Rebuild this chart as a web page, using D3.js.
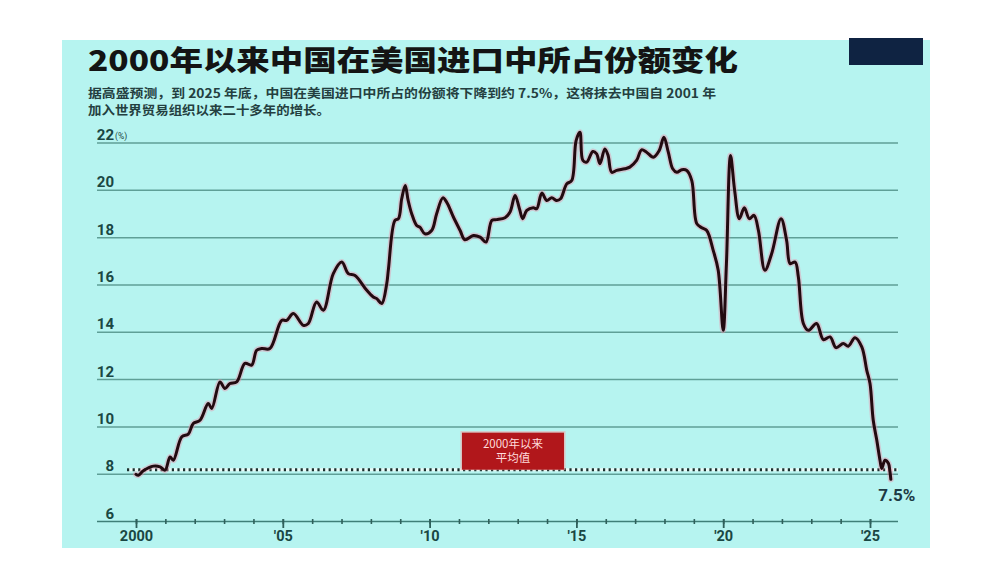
<!DOCTYPE html>
<html><head><meta charset="utf-8">
<script src="https://cdn.jsdelivr.net/npm/d3@7"></script>
<style>
html,body{margin:0;padding:0;background:#fff;}
svg{display:block;}
</style>
</head><body>
<svg id="chart" width="1000" height="585"></svg>
<script>
// ---- data ----
const titleText = "2000年以来中国在美国进口中所占份额变化";
const subtitleLines = [
  "据高盛预测，到 2025 年底，中国在美国进口中所占的份额将下降到约 7.5%，这将抹去中国自 2001 年",
  "加入世界贸易组织以来二十多年的增长。"
];
const yTicks = [6, 8, 10, 12, 14, 16, 18, 20, 22];
const xMajorTicks = [2000, 2005, 2010, 2015, 2020, 2025];
const xMajorLabels = ["2000", "'05", "'10", "'15", "'20", "'25"];
const xMinorTicks = d3.range(2000, 2026);
const averageValue = 8.17;
const averageLabel = ["2000年以来", "平均值"];
const endLabel = "7.5%";

const years = [
  2000.00,2000.08,2000.25,2000.59,2000.82,2000.99,2001.16,2001.27,2001.56,2001.78,
  2001.95,2002.18,2002.46,2002.58,2002.86,2003.03,2003.20,2003.43,2003.71,2003.94,
  2004.11,2004.28,2004.56,2004.96,2005.13,2005.36,2005.70,2005.87,2006.15,2006.38,
  2006.72,2007.01,2007.23,2007.46,2007.86,2008.08,2008.20,2008.37,2008.54,2008.60,
  2008.82,2008.94,2009.05,2009.17,2009.27,2009.39,2009.56,2009.67,2009.84,2010.07,
  2010.24,2010.45,2010.58,2010.81,2011.04,2011.20,2011.49,2011.72,2011.92,2012.12,
  2012.28,2012.57,2012.74,2012.91,2013.06,2013.17,2013.31,2013.53,2013.65,2013.82,
  2013.99,2014.16,2014.33,2014.46,2014.67,2014.84,2014.99,2015.12,2015.22,2015.35,
  2015.56,2015.69,2015.80,2015.97,2016.08,2016.20,2016.37,2016.65,2016.82,2017.05,
  2017.22,2017.39,2017.62,2017.82,2017.98,2018.13,2018.28,2018.42,2018.59,2018.76,
  2018.93,2019.10,2019.27,2019.44,2019.66,2019.83,2020.00,2020.11,2020.25,2020.39,
  2020.55,2020.72,2020.89,2021.05,2021.20,2021.42,2021.65,2021.97,2022.16,2022.28,
  2022.45,2022.56,2022.73,2022.90,2023.18,2023.41,2023.64,2023.84,2024.09,2024.26,
  2024.49,2024.72,2024.89,2025.00,2025.11,2025.23,2025.34,2025.40,2025.51,2025.63,
  2025.68,2025.71
];
const shares = [
  7.97,7.93,8.12,8.32,8.29,8.15,8.71,8.57,9.56,9.67,
  10.12,10.26,10.97,10.76,11.88,11.60,11.81,11.88,12.66,12.59,
  13.22,13.29,13.29,14.48,14.48,14.77,14.27,14.35,15.26,14.91,
  16.46,16.95,16.46,16.38,15.75,15.47,15.40,15.19,16.03,16.67,
  18.71,18.78,19.62,20.18,19.55,18.99,18.49,18.42,18.14,18.28,
  18.99,19.66,19.48,18.85,18.28,17.89,18.07,18.00,17.79,18.71,
  18.74,18.82,19.06,19.76,19.20,18.78,19.13,19.24,19.20,19.86,
  19.55,19.66,19.55,19.62,20.25,20.39,22.08,22.43,21.24,21.17,
  21.62,21.52,21.10,21.73,21.45,20.74,20.82,20.89,20.96,21.24,
  21.69,21.59,21.38,21.66,22.22,21.59,20.89,20.74,20.85,20.82,
  20.39,18.57,18.40,18.28,17.44,16.60,14.06,16.88,21.45,19.97,
  18.78,19.24,18.78,18.92,18.28,16.60,17.30,18.78,17.86,16.88,
  16.95,16.31,14.35,14.06,14.35,13.67,13.78,13.33,13.50,13.39,
  13.75,13.36,12.37,11.81,10.26,9.42,8.57,8.22,8.57,8.43,
  8.08,7.76
];
const series = years.map((t, i) => ({t, v: shares[i]}));

// ---- drawing ----
const svg = d3.select("#chart");
const CJK = "'Noto Sans CJK SC','Noto Sans',sans-serif";
const NUM = "Roboto,'Noto Sans',sans-serif";

// outer white + panel
svg.append("rect").attr("x",0).attr("y",0).attr("width",1000).attr("height",585).attr("fill","#ffffff");
svg.append("rect").attr("x",62).attr("y",40).attr("width",868).attr("height",508).attr("fill","#b6f4f0");

// logo block (top right)
svg.append("rect").attr("x",849).attr("y",38).attr("width",74).attr("height",27).attr("fill","#0f2342");

// scales
const x = d3.scaleLinear().domain([2000, 2025]).range([136, 870]);
const y = d3.scaleLinear().domain([6, 22]).range([521, 142.5]);
const gridLeft = 97, gridRight = 898;

// title & subtitle
svg.append("text").attr("x",88).attr("y",71)
  .attr("font-family",CJK).attr("font-weight",900).attr("font-size",28)
  .attr("fill","#141414")
  .attr("textLength",650).attr("lengthAdjust","spacingAndGlyphs")
  .text(titleText);
const subLens = [628, 242];
subtitleLines.forEach((s, i) => {
  svg.append("text").attr("x",88).attr("y",98 + i*17)
    .attr("font-family",CJK).attr("font-weight",700).attr("font-size",12.5)
    .attr("fill","#243f40")
    .attr("textLength",subLens[i]).attr("lengthAdjust","spacingAndGlyphs")
    .text(s);
});

// y grid + labels
const yAxis = d3.axisRight(y).tickValues(yTicks).tickSize(gridRight - gridLeft).tickFormat(d3.format("d"));
const gy = svg.append("g").attr("transform",`translate(${gridLeft},0)`).call(yAxis);
gy.select(".domain").remove();
gy.selectAll(".tick line").attr("stroke", d => d === 6 ? "#3f7f78" : "#5f9f97").attr("stroke-width",1.5);
gy.selectAll(".tick text")
  .attr("x", 17).attr("dy", -3).attr("text-anchor","end")
  .attr("font-family",NUM).attr("font-size",15).attr("font-weight",700)
  .attr("fill","#1a4743");
// (%) unit after 22
svg.append("text").attr("x", gridLeft + 18).attr("y", y(22) - 4)
  .attr("font-family",NUM).attr("font-size",8.5).attr("fill","#1a4743").text("(%)");

// x axis: minor ticks
const gxMinor = svg.append("g").attr("transform",`translate(0,${y(6)})`)
  .call(d3.axisBottom(x).tickValues(xMinorTicks).tickSize(3).tickFormat(""));
gxMinor.select(".domain").remove();
gxMinor.selectAll(".tick line").attr("y1",-2).attr("stroke","#2f5f5a").attr("stroke-width",1.6);
// x axis: major ticks and labels
const gxMajor = svg.append("g").attr("transform",`translate(0,${y(6)})`)
  .call(d3.axisBottom(x).tickValues(xMajorTicks).tickSize(7).tickPadding(3)
    .tickFormat((d, i) => xMajorLabels[i]));
gxMajor.select(".domain").remove();
gxMajor.selectAll(".tick line").attr("y1",-2).attr("stroke","#2f5f5a").attr("stroke-width",1.8);
gxMajor.selectAll(".tick text")
  .attr("font-family",NUM).attr("font-size",14.5).attr("font-weight",700).attr("fill","#1a4743");

// average dotted line
const avgY = y(averageValue);
svg.append("line").attr("x1",127).attr("x2",gridRight).attr("y1",avgY).attr("y2",avgY)
  .attr("stroke","#e9fbf8").attr("stroke-width",3);
svg.append("line").attr("x1",127).attr("x2",gridRight).attr("y1",avgY).attr("y2",avgY)
  .attr("stroke","#17302e").attr("stroke-width",3).attr("stroke-dasharray","2.2,3.4");

// average label box
const boxCx = x(2012.84), boxW = 102, boxH = 37;
svg.append("rect").attr("x",boxCx - boxW/2 - 1.5).attr("y",avgY - boxH - 1.5).attr("width",boxW+3).attr("height",boxH+2)
  .attr("fill","#f0a7a7").attr("opacity",0.6);
svg.append("rect").attr("x",boxCx - boxW/2).attr("y",avgY - boxH).attr("width",boxW).attr("height",boxH)
  .attr("fill","#b1171b");
averageLabel.forEach((s, i) => {
  svg.append("text").attr("x",boxCx).attr("y",avgY - boxH + 15 + i*14)
    .attr("text-anchor","middle").attr("font-family",CJK).attr("font-size",11.5)
    .attr("fill","#ffdcdc").text(s);
});

// the series line with a reddish glow
const line = d3.line().x(d => x(d.t)).y(d => y(d.v)).curve(d3.curveCatmullRom.alpha(0.5));
svg.append("path").datum(series).attr("d",line).attr("fill","none")
  .attr("stroke","#f08aa5").attr("stroke-width",6).attr("stroke-opacity",0.4)
  .attr("stroke-linejoin","round").attr("stroke-linecap","round");
svg.append("path").datum(series).attr("d",line).attr("fill","none")
  .attr("stroke","#220a10").attr("stroke-width",3)
  .attr("stroke-linejoin","round").attr("stroke-linecap","round");

// end label
const last = series[series.length - 1];
svg.append("text").attr("x", x(last.t) + 6).attr("y", y(7.5) + 15)
  .attr("text-anchor","middle").attr("font-family",NUM).attr("font-size",17).attr("font-weight",700)
  .attr("fill","#1d3a44").text(endLabel);
</script>
</body></html>
